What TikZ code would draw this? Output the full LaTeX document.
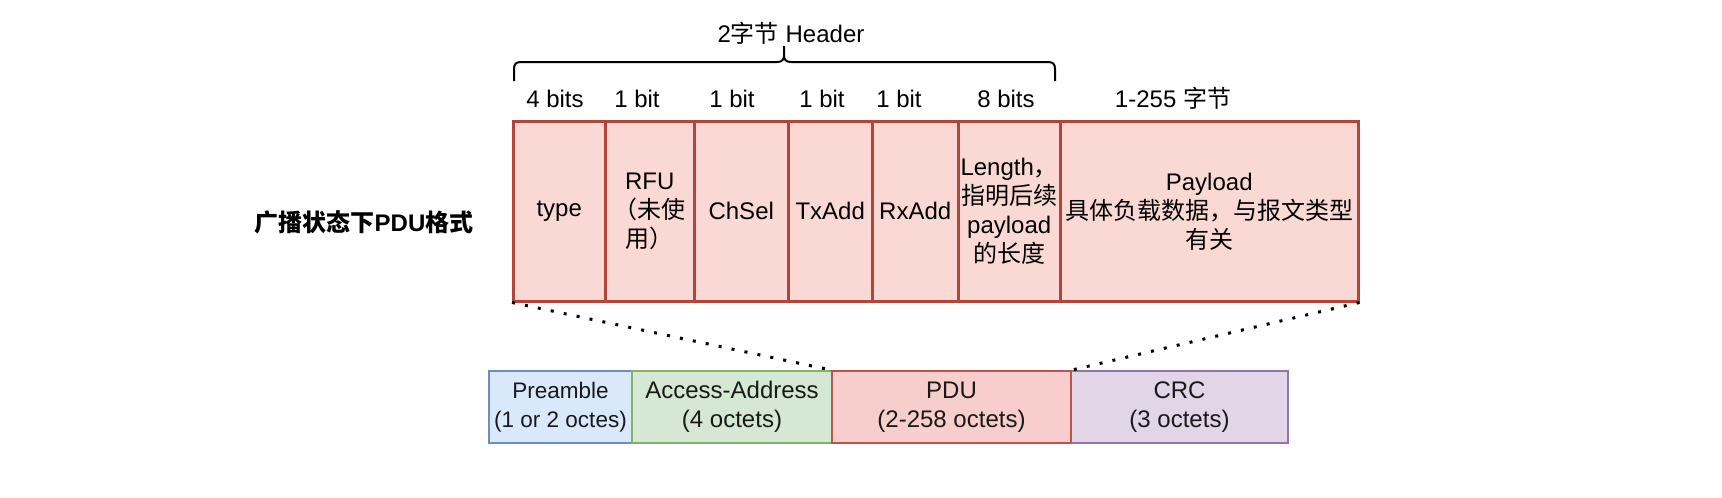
\documentclass[tikz,border=0pt]{standalone}
\usepackage{fontspec}
\setmainfont{Liberation Sans}
\newfontfamily\cjk{Noto Sans CJK SC}
\definecolor{topfill}{HTML}{FAD9D5}
\definecolor{topdraw}{HTML}{B0463A}
\definecolor{pdufill}{HTML}{F8CECC}
\definecolor{pdudraw}{HTML}{B85450}
\definecolor{prefill}{HTML}{DAE8FC}
\definecolor{predraw}{HTML}{6C8EBF}
\definecolor{accfill}{HTML}{D5E8D4}
\definecolor{accdraw}{HTML}{82B366}
\definecolor{crcfill}{HTML}{E1D5E7}
\definecolor{crcdraw}{HTML}{9673A6}
\begin{document}
\begin{tikzpicture}[x=1pt,y=-1pt,
  every node/.style={font=\fontsize{24}{29}\selectfont, inner sep=0pt, align=center},
  topbox/.style={draw=topdraw, fill=topfill, line width=2.5pt, minimum height=180pt, anchor=north west},
  botbox/.style={line width=2pt, minimum height=72pt, anchor=north west, text=black!90},
  lbl/.style={anchor=base},
  dotline/.style={line width=3pt, dash pattern=on 3pt off 10.2pt},
  bracestyle/.style={line width=2pt}]
\useasboundingbox (0,0) rectangle (1722,498);

% title
\node[font=\fontsize{24}{29}\selectfont\bfseries] (title) at (364,222) {{\cjk 广播状态下}PDU{\cjk 格式}};

% top row
\node[topbox, minimum width=92pt] (type) at (512,120) {type};
\node[topbox, minimum width=89pt] (rfu) at (604,120) {RFU\\{\cjk （未使}\\{\cjk 用）}};
\node[topbox, minimum width=94pt] (chsel) at (693,120) {ChSel};
\node[topbox, minimum width=84pt] (txadd) at (787,120) {TxAdd};
\node[topbox, minimum width=86pt] (rxadd) at (871,120) {RxAdd};
\node[topbox, minimum width=102pt] (length) at (957,120) {Length{\cjk ，}\\{\cjk 指明后续}\\payload\\{\cjk 的长度}};
\node[topbox, minimum width=298pt] (payload) at (1059,120) {Payload\\{\cjk 具体负载数据，与报文类型}\\{\cjk 有关}};

% bit labels
\node[lbl] (l1) at (555,107) {4 bits};
\node[lbl] (l2) at (637,107) {1 bit};
\node[lbl] (l3) at (732,107) {1 bit};
\node[lbl] (l4) at (822,107) {1 bit};
\node[lbl] (l5) at (899,107) {1 bit};
\node[lbl] (l6) at (1006,107) {8 bits};
\node[lbl] (l7) at (1173,107) {1-255 {\cjk 字节}};

% header brace
\node[lbl] (hdr) at (791,42) {2{\cjk 字节} Header};
\coordinate (bl) at (514,81);
\coordinate (br) at (1055,81);
\coordinate (bt) at (784,46);
\draw[bracestyle] (bl) -- (514,69) .. controls (514,64) and (516,62) .. (521,62) -- (777,62)
  .. controls (782,62) and (784,60) .. (784,55) -- (bt) -- (784,55)
  .. controls (784,60) and (786,62) .. (791,62) -- (1048,62)
  .. controls (1053,62) and (1055,64) .. (1055,69) -- (br);

% bottom row
\node[botbox, draw=predraw, fill=prefill, minimum width=143pt, font=\fontsize{22.5}{29}\selectfont] (pre) at (488,370) {Preamble\\(1 or 2 octes)};
\node[botbox, draw=accdraw, fill=accfill, minimum width=200pt] (acc) at (631,370) {Access-Address\\(4 octets)};
\node[botbox, draw=crcdraw, fill=crcfill, minimum width=217pt] (crc) at (1070,370) {CRC\\(3 octets)};
\node[botbox, draw=pdudraw, fill=pdufill, minimum width=239pt] (pdu) at (831,370) {PDU\\(2-258 octets)};

% dotted connectors
\draw[dotline] (type.south west) -- (pdu.north west);
\draw[dotline] (payload.south east) -- (pdu.north east);
\end{tikzpicture}
\end{document}
